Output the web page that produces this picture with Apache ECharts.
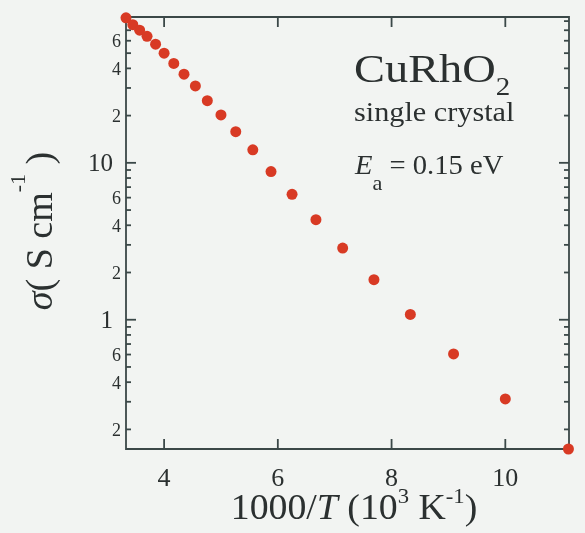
<!DOCTYPE html>
<html>
<head>
<meta charset="utf-8">
<title>CuRhO2 single crystal</title>
<script src="https://cdn.jsdelivr.net/npm/echarts@6/dist/echarts.min.js"></script>
<style>
  html, body { margin: 0; padding: 0; background: #f2f4f2; }
  #chart { width: 585px; height: 533px; }
</style>
</head>
<body>
<div id="chart"></div>
<script>
// 1000/T (10^3 K^-1)
var invT = [3.33, 3.45, 3.57, 3.70, 3.85, 4.00, 4.17, 4.35, 4.55, 4.76, 5.00,
            5.26, 5.56, 5.88, 6.25, 6.67, 7.14, 7.69, 8.33, 9.09, 10.00, 11.11];
// sigma (S cm^-1)
var sigma = [84, 76, 70, 64, 57, 50, 43, 36.7, 30.9, 24.9, 20.2,
             15.8, 12.1, 8.8, 6.3, 4.34, 2.86, 1.80, 1.08, 0.605, 0.313, 0.150];

var xTickValues = [4, 6, 8, 10];
var xTickLabels = ['4', '6', '8', '10'];
var yTickValues = [0.2, 0.3, 0.4, 0.5, 0.6, 0.7, 0.8, 0.9, 1, 2, 3, 4, 5, 6, 7, 8, 9, 10,
                   20, 30, 40, 50, 60, 70, 80];
var yTickLabels = ['2', '', '4', '', '6', '', '', '', '1', '2', '', '4', '', '6', '', '', '', '10',
                   '2', '', '4', '', '6', '', ''];
var yMajorTicks = [1, 10];

var xMin = 3.33, xMax = 11.12, yMin = 0.15, yMax = 85;

var axisColor = '#3b4848';
var textColor = '#2b3030';
var serif = '"Liberation Serif", "DejaVu Serif", serif';

var chart = echarts.init(document.getElementById('chart'));

// y ticks, left and right, inward
function renderYTick(params, api) {
  var v = api.value(1);
  var y = api.coord([xMin, v])[1];
  var cs = params.coordSys;
  var major = yMajorTicks.indexOf(v) >= 0;
  var len = major ? 10 : 5;
  var kids = [
    { type: 'line', shape: { x1: cs.x, y1: y, x2: cs.x + len, y2: y },
      style: { stroke: axisColor, lineWidth: 1.8 } },
    { type: 'line', shape: { x1: cs.x + cs.width, y1: y, x2: cs.x + cs.width - len, y2: y },
      style: { stroke: axisColor, lineWidth: 1.8 } }
  ];
  var lab = yTickLabels[params.dataIndex];
  if (lab) {
    kids.push({
      type: 'text', x: cs.x - (major ? 13 : 5), y: y + 2,
      style: { text: lab, fill: textColor, fontFamily: serif, fontSize: major ? 25 : 18,
               align: 'right', verticalAlign: 'middle' }
    });
  }
  return { type: 'group', children: kids };
}

// x ticks, bottom and top, inward
function renderXTick(params, api) {
  var v = api.value(0);
  var x = api.coord([v, yMin])[0];
  var cs = params.coordSys;
  var bottom = cs.y + cs.height;
  return {
    type: 'group',
    children: [
      { type: 'line', shape: { x1: x, y1: bottom, x2: x, y2: bottom - 10 },
        style: { stroke: axisColor, lineWidth: 1.8 } },
      { type: 'line', shape: { x1: x, y1: cs.y, x2: x, y2: cs.y + 10 },
        style: { stroke: axisColor, lineWidth: 1.8 } },
      { type: 'text', x: x, y: bottom + 30,
        style: { text: xTickLabels[params.dataIndex], fill: textColor, fontFamily: serif,
                 fontSize: 26, align: 'center', verticalAlign: 'middle' } }
    ]
  };
}

var option = {
  backgroundColor: '#f2f4f2',
  animation: false,
  grid: {
    left: 126, right: 16, top: 17, bottom: 84,
    show: true, borderColor: axisColor, borderWidth: 1.8, backgroundColor: 'transparent'
  },
  xAxis: {
    type: 'value', min: xMin, max: xMax,
    axisLine: { show: false }, axisTick: { show: false },
    axisLabel: { show: false }, splitLine: { show: false }
  },
  yAxis: {
    type: 'log', logBase: 10, min: yMin, max: yMax,
    axisLine: { show: false }, axisTick: { show: false },
    axisLabel: { show: false }, splitLine: { show: false }, minorTick: { show: false }
  },
  series: [
    {
      type: 'custom', renderItem: renderYTick, silent: true, z: 1,
      data: yTickValues.map(function (v) { return [xMin, v]; })
    },
    {
      type: 'custom', renderItem: renderXTick, silent: true, z: 1,
      data: xTickValues.map(function (v) { return [v, yMin]; })
    },
    {
      type: 'scatter', symbol: 'circle', symbolSize: 11, clip: false, z: 5,
      itemStyle: { color: '#d83a24', opacity: 1 },
      data: invT.map(function (x, i) { return [x, sigma[i]]; })
    }
  ],
  graphic: [
    {
      type: 'text', x: 354, y: 71, scaleX: 1.16,
      style: {
        text: '{m|CuRhO}{s|2}', fill: textColor, verticalAlign: 'middle', align: 'left',
        rich: {
          m: { fontFamily: serif, fontSize: 40, lineHeight: 59, fill: textColor },
          s: { fontFamily: serif, fontSize: 25, verticalAlign: 'bottom', fill: textColor }
        }
      }
    },
    {
      type: 'text', x: 354, y: 114, scaleX: 1.12,
      style: { text: 'single crystal', fill: textColor, fontFamily: serif, fontSize: 27,
               verticalAlign: 'middle', align: 'left' }
    },
    {
      type: 'text', x: 355, y: 167, scaleX: 1.06,
      style: {
        text: '{e|E}{s|a}{m| = 0.15 eV}', fill: textColor, verticalAlign: 'middle', align: 'left',
        rich: {
          e: { fontFamily: serif, fontStyle: 'italic', fontSize: 27, lineHeight: 55, fill: textColor },
          s: { fontFamily: serif, fontSize: 21, verticalAlign: 'bottom', fill: textColor },
          m: { fontFamily: serif, fontSize: 27, lineHeight: 55, fill: textColor }
        }
      }
    },
    {
      type: 'text', x: 354, y: 510, scaleX: 1.08,
      style: {
        text: '{m|1000/}{i|T}{m| (10}{p|3}{m| K}{p|-1}{m|)}', fill: textColor,
        verticalAlign: 'middle', align: 'center',
        rich: {
          m: { fontFamily: serif, fontSize: 35, lineHeight: 46, fill: textColor },
          i: { fontFamily: serif, fontStyle: 'italic', fontSize: 35, lineHeight: 46, fill: textColor },
          p: { fontFamily: serif, fontSize: 21, verticalAlign: 'top', fill: textColor }
        }
      }
    },
    {
      type: 'text', x: 42, y: 231, rotation: Math.PI / 2,
      style: {
        text: '{g|σ}{m|( S cm}{p|-1}{m| )}', fill: textColor,
        verticalAlign: 'middle', align: 'center',
        rich: {
          g: { fontFamily: serif, fontStyle: 'italic', fontSize: 38, lineHeight: 67, fill: textColor },
          m: { fontFamily: serif, fontSize: 38, lineHeight: 67, fill: textColor },
          p: { fontFamily: serif, fontSize: 22, verticalAlign: 'top', fill: textColor }
        }
      }
    }
  ]
};

chart.setOption(option);
</script>
</body>
</html>
